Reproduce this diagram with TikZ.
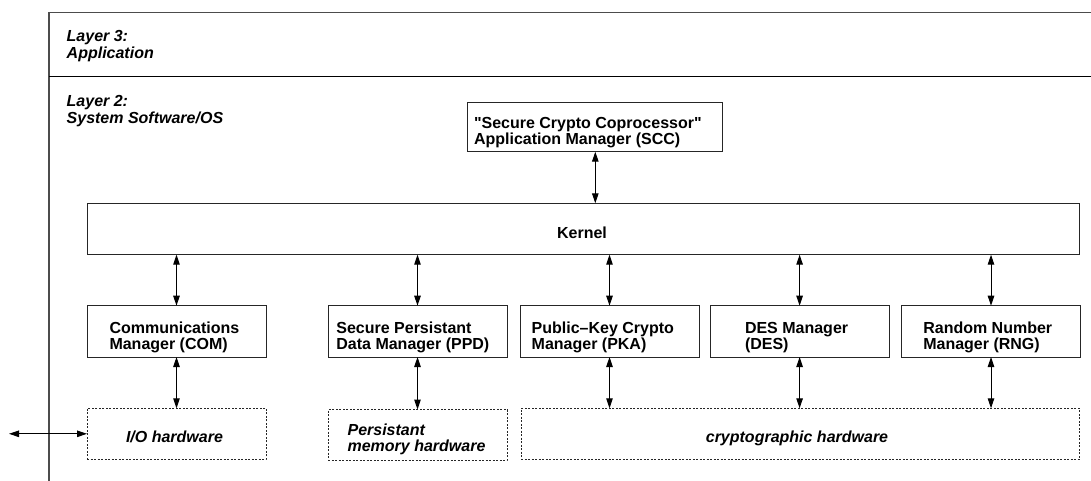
\documentclass[tikz,border=0pt]{standalone}
\usepackage{fontspec}
\setmainfont{Liberation Sans}
\usetikzlibrary{arrows.meta}
\newcommand\twol[2]{\begin{tabular}[t]{@{}l@{}}#1\\#2\end{tabular}}
\begin{document}
\begin{tikzpicture}[x=1pt,y=-1pt,
  every node/.style={font=\fontsize{16}{16}\selectfont\bfseries, inner sep=0pt, outer sep=0pt},
  box/.style={draw=black!85, line width=1pt, rectangle, minimum width=179pt, minimum height=51.3pt},
  hwbox/.style={draw=black!85, line width=0.9pt, dash pattern=on 2pt off 1.5pt, rectangle, minimum width=179pt, minimum height=51pt},
  txt/.style={anchor=base west},
  itxt/.style={font=\fontsize{16}{16}\selectfont\bfseries\itshape},
  arr/.style={line width=1pt, {Triangle[length=10pt,width=6.5pt]}-{Triangle[length=10pt,width=6.5pt]}},
  frame/.style={line width=1.2pt, draw=black!70}
]
\useasboundingbox (0,0) rectangle (1091,481);

% frame
\draw[frame] (49,481) -- (49,12.7) -- (1091,12.7);
\draw[line width=1.6pt] (49,76.7) -- (1091,76.7);

% layer labels
\node[txt, itxt] (l3) at (66.7,42) {\twol{Layer 3:}{Application}};
\node[txt, itxt] (l2) at (66.7,106.9) {\twol{Layer 2:}{System Software/OS}};

% boxes
\node[box, minimum width=255.3pt, minimum height=49.4pt] (scc) at (595.3,127) {};
\node[box, minimum width=992pt, minimum height=51.4pt] (kernel) at (583,229) {};
\node[box] (com) at (176.5,331.35) {};
\node[box] (ppd) at (417.5,331.35) {};
\node[box] (pka) at (609.5,331.35) {};
\node[box] (des) at (799.6,331.35) {};
\node[box] (rng) at (991,331.35) {};
\node[hwbox] (io) at (176.5,433.8) {};
\node[hwbox, minimum height=50.5pt] (pmem) at (417.5,434.75) {};
\node[hwbox, minimum width=558.3pt] (crypto) at (800.15,433.8) {};

% texts
\node[txt] (tscc) at (474,128.6) {\twol{\textquotedbl Secure Crypto Coprocessor\textquotedbl}{Application Manager (SCC)}};
\node[anchor=base] (tkernel) at (582,238.5) {Kernel};
\node[txt] (tcom) at (109.5,333.3) {\twol{Communications}{Manager (COM)}};
\node[txt] (tppd) at (336.4,333.3) {\twol{Secure Persistant}{Data Manager (PPD)}};
\node[txt] (tpka) at (531.7,333.3) {\twol{Public--Key Crypto}{Manager (PKA)}};
\node[txt] (tdes) at (745,333.3) {\twol{DES Manager}{(DES)}};
\node[txt] (trng) at (923.3,333.3) {\twol{Random Number}{Manager (RNG)}};
\node[anchor=base, itxt] (tio) at (174.5,442.3) {I/O hardware};
\node[txt, itxt] (tpmem) at (347.6,435.5) {\twol{Persistant}{memory hardware}};
\node[anchor=base, itxt] (tcrypto) at (797,442.3) {cryptographic hardware};

% connectors
\draw[arr] (scc.south) -- (kernel.north -| scc.south);
\foreach \m in {com,ppd,pka,des,rng}
  \draw[arr] (kernel.south -| \m.north) -- (\m.north);
\draw[arr] (com.south) -- (io.north -| com.south);
\draw[arr] (ppd.south) -- (pmem.north -| ppd.south);
\foreach \m in {pka,des,rng}
  \draw[arr] (\m.south) -- (crypto.north -| \m.south);
\coordinate (ext) at (9,433.8);
\draw[arr] (ext) -- (io.west);
\end{tikzpicture}
\end{document}
